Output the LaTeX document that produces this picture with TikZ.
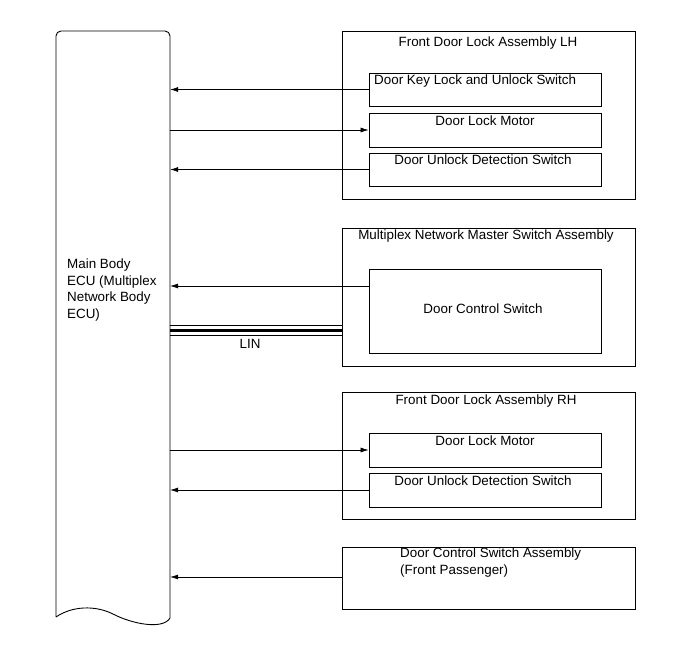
\documentclass[tikz,border=0pt]{standalone}
\usepackage{fontspec}
\setmainfont{Liberation Sans}
\usetikzlibrary{arrows.meta}
\begin{document}
\begin{tikzpicture}[x=1pt,y=-1pt,
  box/.style={draw=black, line width=0.9pt, inner sep=0pt, minimum width=232pt},
  outer/.style={draw=black, line width=0.9pt, inner sep=0pt, minimum width=293pt},
  txt/.style={inner sep=0pt, font=\fontsize{13.4}{16.5}\selectfont},
  arr/.style={line width=0.6pt, -{Latex[length=8pt,width=5pt]}}
]
\useasboundingbox (0,0) rectangle (690,660);
% ECU
\node[inner sep=0pt, minimum width=114pt, minimum height=587pt] (ecu) at (113,324.5) {};
\draw[line width=0.9pt] (56,617) [rounded corners=5pt] -- (56,31) -- (170,31) -- (170,612) [sharp corners] -- (170,618)
  .. controls (163,630) and (132,624) .. (113,614)
  .. controls (95,605) and (72,606) .. (56,617);
\node[txt, anchor=west, align=left] (ecut) at (67,290) {Main Body\\ECU (Multiplex\\Network Body\\ECU)};

% Front Door Lock Assembly LH
\node[outer, minimum height=168pt] (lh) at (488.5,115) {};
\node[txt] (lht) at (488,43) {Front Door Lock Assembly LH};
\node[box, minimum height=33pt] (lh1) at (485,89.5) {};
\node[txt, anchor=west] (lh1t) at (374,81) {Door Key Lock and Unlock Switch};
\node[box, minimum height=34pt] (lh2) at (485,130) {};
\node[txt] (lh2t) at (485,121) {Door Lock Motor};
\node[box, minimum height=33pt] (lh3) at (485,169.5) {};
\node[txt] (lh3t) at (483,160) {Door Unlock Detection Switch};

% Multiplex Network Master Switch Assembly
\node[outer, minimum height=138pt] (mx) at (488.5,297) {};
\node[txt] (mxt) at (486,236) {Multiplex Network Master Switch Assembly};
\node[box, minimum height=84pt] (mx1) at (485,311) {};
\node[txt] (mx1t) at (483,309) {Door Control Switch};

% Front Door Lock Assembly RH
\node[outer, minimum height=127pt] (rh) at (488.5,455.5) {};
\node[txt] (rht) at (486,401) {Front Door Lock Assembly RH};
\node[box, minimum height=34pt] (rh1) at (485,450) {};
\node[txt] (rh1t) at (485,441) {Door Lock Motor};
\node[box, minimum height=34pt] (rh2) at (485,490) {};
\node[txt] (rh2t) at (483,481) {Door Unlock Detection Switch};

% Door Control Switch Assembly
\node[outer, minimum height=62pt] (dc) at (488.5,578) {};
\node[txt, anchor=north west, align=left] (dct) at (400,548) {Door Control Switch Assembly\\(Front Passenger)};

% connectors
\draw[arr] (lh1.west) -- (lh1.west -| ecu.east);
\draw[arr] (lh2.west -| ecu.east) -- (lh2.west);
\draw[arr] (lh3.west) -- (lh3.west -| ecu.east);
\draw[arr] ([yshift=25pt]mx1.west) -- ([yshift=25pt]mx1.west -| ecu.east);
\draw[arr] (rh1.west -| ecu.east) -- (rh1.west);
\draw[arr] (rh2.west) -- (rh2.west -| ecu.east);
\draw[arr] ([yshift=1pt]dc.west) -- ([yshift=1pt]dc.west -| ecu.east);

% LIN
\coordinate (linA) at (ecu.east |- 0,330);
\coordinate (linB) at (mx.west |- 0,330);
\draw[line width=0.8pt] ([yshift=-5pt]linA) -- ([yshift=-5pt]linB);
\draw[line width=3pt] (linA) -- (linB);
\draw[line width=0.8pt] ([yshift=5pt]linA) -- ([yshift=5pt]linB);
\node[txt] (lin) at (250,344) {LIN};
\end{tikzpicture}
\end{document}
